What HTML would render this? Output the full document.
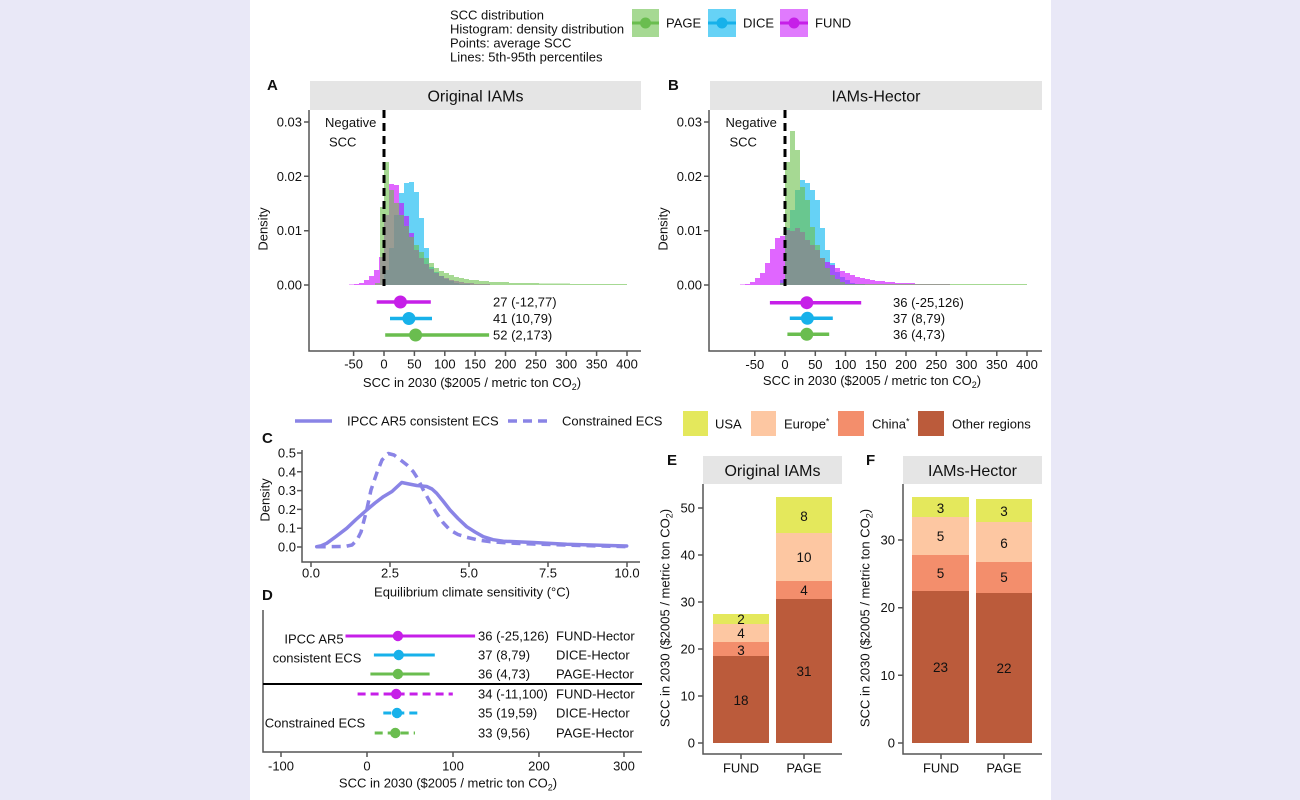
<!DOCTYPE html>
<html><head><meta charset="utf-8">
<style>
html,body{margin:0;padding:0;background:#e9e8f7;}
svg{display:block;}
text{font-family:"Liberation Sans",Arial,sans-serif;fill:#111;}
</style></head>
<body>
<svg width="1300" height="800" viewBox="0 0 1300 800" xmlns="http://www.w3.org/2000/svg">
<rect x="0" y="0" width="1300" height="800" fill="#e9e8f7"/>
<rect x="250" y="0" width="801" height="800" fill="#ffffff"/>

<!-- Top legend -->
<g font-size="13">
<text x="450" y="19.5">SCC distribution</text>
<text x="450" y="33.5">Histogram: density distribution</text>
<text x="450" y="47.5">Points: average SCC</text>
<text x="450" y="61.5">Lines: 5th-95th percentiles</text>
</g>
<rect x="632" y="9" width="27" height="28" fill="rgb(166,217,147)"/>
<line x1="632" y1="23" x2="659" y2="23" stroke="#6abd4f" stroke-width="3"/>
<circle cx="645.5" cy="23" r="5.5" fill="#6abd4f"/>
<text x="666" y="27.5" font-size="13">PAGE</text>
<rect x="708" y="9" width="28" height="28" fill="rgb(102,210,246)"/>
<line x1="708" y1="23" x2="736" y2="23" stroke="#17b1ea" stroke-width="3"/>
<circle cx="722" cy="23" r="5.5" fill="#17b1ea"/>
<text x="743" y="27.5" font-size="13">DICE</text>
<rect x="780" y="9" width="28" height="28" fill="rgb(224,122,253)"/>
<line x1="780" y1="23" x2="808" y2="23" stroke="#c61fe8" stroke-width="3"/>
<circle cx="794" cy="23" r="5.5" fill="#c61fe8"/>
<text x="815" y="27.5" font-size="13">FUND</text>

<!-- ============ Panel A ============ -->
<text x="267" y="90" font-size="15" font-weight="bold">A</text>
<rect x="310" y="81" width="331" height="29" fill="#e5e5e5"/>
<text x="475.5" y="101.5" font-size="16" text-anchor="middle">Original IAMs</text>
<!-- histograms -->
<path d="M384 285 V270 H389 V248 H394 V215 H399 V193 H404 V183 H409 V182 H414 V192 H419 V218 H424 V248 H429 V267 H434 V272 H439 V276 H444 V279 H449 V281 H454 V283 H459 V284 H470 V285 Z" fill="rgb(0,180,240)" fill-opacity="0.6"/>
<path d="M349 285 V284.5 H354 V284 H359 V283 H364 V280 H369 V276 H374 V270 H379 V257 H384 V215 H389 V184 H394 V185 H399 V203 H404 V216 H409 V233 H414 V250 H419 V258 H424 V264 H429 V269 H434 V273 H439 V276 H444 V278 H449 V280 H454 V281 H459 V282 H464 V283 H474 V284 H490 V285 Z" fill="rgb(204,0,255)" fill-opacity="0.6"/>
<path d="M375 285 V283 H380 V207 H384 V162 H389 V190 H394 V203 H399 V215 H404 V226 H409 V237 H414 V245 H419 V252 H424 V258 H429 V263 H434 V268 H439 V271 H444 V273 H449 V275 H454 V277 H459 V278 H464 V279 H469 V280 H479 V281 H489 V282 H509 V283 H539 V283.5 H570 V284 H627 V285 Z" fill="rgb(106,191,75)" fill-opacity="0.6"/>
<line x1="384" y1="110" x2="384" y2="286" stroke="#000" stroke-width="3" stroke-dasharray="8,5"/>
<text x="325" y="127" font-size="13">Negative</text>
<text x="329" y="146.5" font-size="13">SCC</text>
<!-- point ranges -->
<line x1="376.7" y1="302" x2="430.8" y2="302" stroke="#c61fe8" stroke-width="3.5"/>
<circle cx="400.4" cy="302" r="6.5" fill="#c61fe8"/>
<line x1="390" y1="318.5" x2="432" y2="318.5" stroke="#17b1ea" stroke-width="3.5"/>
<circle cx="408.9" cy="318.5" r="6.5" fill="#17b1ea"/>
<line x1="385.2" y1="335" x2="489.1" y2="335" stroke="#6abd4f" stroke-width="3.5"/>
<circle cx="415.6" cy="335" r="6.5" fill="#6abd4f"/>
<g font-size="13">
<text x="493" y="306.5">27 (-12,77)</text>
<text x="493" y="323">41 (10,79)</text>
<text x="493" y="339.5">52 (2,173)</text>
</g>
<!-- axes -->
<g stroke="#555" stroke-width="1.5" fill="none">
<path d="M309 110 V351 H641"/>
<path d="M304 122 H309 M304 176.3 H309 M304 230.7 H309 M304 285 H309"/>
<path d="M353.6 351 V356 M384 351 V356 M414.4 351 V356 M444.8 351 V356 M475.1 351 V356 M505.5 351 V356 M535.9 351 V356 M566.3 351 V356 M596.6 351 V356 M627 351 V356"/>
</g>
<g font-size="13" text-anchor="end">
<text x="302" y="126.5">0.03</text>
<text x="302" y="180.8">0.02</text>
<text x="302" y="235.2">0.01</text>
<text x="302" y="289.5">0.00</text>
</g>
<text transform="translate(267.5,229) rotate(-90)" font-size="13" text-anchor="middle">Density</text>
<g font-size="13" text-anchor="middle">
<text x="353.6" y="368.5">-50</text>
<text x="384" y="368.5">0</text>
<text x="414.4" y="368.5">50</text>
<text x="444.8" y="368.5">100</text>
<text x="475.1" y="368.5">150</text>
<text x="505.5" y="368.5">200</text>
<text x="535.9" y="368.5">250</text>
<text x="566.3" y="368.5">300</text>
<text x="596.6" y="368.5">350</text>
<text x="627" y="368.5">400</text>
<text x="472" y="387">SCC in 2030 ($2005 / metric ton CO<tspan font-size="9" dy="3">2</tspan><tspan dy="-3">)</tspan></text>
</g>

<!-- ============ Panel B ============ -->
<text x="668" y="90" font-size="15" font-weight="bold">B</text>
<rect x="710" y="81" width="332" height="29" fill="#e5e5e5"/>
<text x="876" y="101.5" font-size="16" text-anchor="middle">IAMs-Hector</text>
<path d="M780 285 V280 H785 V228 H790 V210 H795 V190 H800 V180 H805 V183 H810 V190 H815 V200 H820 V228 H825 V250 H830 V263 H835 V272 H840 V277 H845 V280 H850 V283 H855 V284 H865 V285 Z" fill="rgb(0,180,240)" fill-opacity="0.6"/>
<path d="M740 285 V284.5 H745 V284 H750 V282 H755 V278 H760 V273 H765 V263 H770 V249 H775 V238 H780 V236 H785 V230 H790 V231 H795 V228 H800 V232 H805 V240 H810 V245 H815 V250 H820 V258 H825 V262 H830 V265 H835 V268 H840 V271 H845 V273 H850 V275 H855 V277 H860 V278 H865 V279 H870 V280 H875 V281 H885 V282 H895 V283 H915 V284 H950 V285 Z" fill="rgb(204,0,255)" fill-opacity="0.6"/>
<path d="M780 285 V283 H785 V162 H790 V131 H795 V150 H800 V187 H805 V200 H810 V227 H815 V245 H820 V258 H825 V268 H830 V275 H835 V279 H840 V282 H845 V284 H1027 V285 Z" fill="rgb(106,191,75)" fill-opacity="0.6"/>
<line x1="785" y1="110" x2="785" y2="286" stroke="#000" stroke-width="3" stroke-dasharray="8,5"/>
<text x="725.5" y="127" font-size="13">Negative</text>
<text x="729.5" y="146.5" font-size="13">SCC</text>
<line x1="769.9" y1="302.7" x2="861.2" y2="302.7" stroke="#c61fe8" stroke-width="3.5"/>
<circle cx="806.8" cy="302.7" r="6.5" fill="#c61fe8"/>
<line x1="789.8" y1="318.3" x2="832.8" y2="318.3" stroke="#17b1ea" stroke-width="3.5"/>
<circle cx="807.4" cy="318.3" r="6.5" fill="#17b1ea"/>
<line x1="787.4" y1="334.3" x2="829.2" y2="334.3" stroke="#6abd4f" stroke-width="3.5"/>
<circle cx="806.8" cy="334.3" r="6.5" fill="#6abd4f"/>
<g font-size="13">
<text x="893" y="307">36 (-25,126)</text>
<text x="893" y="322.8">37 (8,79)</text>
<text x="893" y="338.8">36 (4,73)</text>
</g>
<g stroke="#555" stroke-width="1.5" fill="none">
<path d="M709 110 V351 H1042"/>
<path d="M704 122 H709 M704 176.3 H709 M704 230.7 H709 M704 285 H709"/>
<path d="M754.8 351 V356 M785 351 V356 M815.3 351 V356 M845.5 351 V356 M875.8 351 V356 M906 351 V356 M936.3 351 V356 M966.5 351 V356 M996.8 351 V356 M1027 351 V356"/>
</g>
<g font-size="13" text-anchor="end">
<text x="702" y="126.5">0.03</text>
<text x="702" y="180.8">0.02</text>
<text x="702" y="235.2">0.01</text>
<text x="702" y="289.5">0.00</text>
</g>
<text transform="translate(667.5,229) rotate(-90)" font-size="13" text-anchor="middle">Density</text>
<g font-size="13" text-anchor="middle">
<text x="754.8" y="369">-50</text>
<text x="785" y="369">0</text>
<text x="815.3" y="369">50</text>
<text x="845.5" y="369">100</text>
<text x="875.8" y="369">150</text>
<text x="906" y="369">200</text>
<text x="936.3" y="369">250</text>
<text x="966.5" y="369">300</text>
<text x="996.8" y="369">350</text>
<text x="1027" y="369">400</text>
<text x="872" y="385">SCC in 2030 ($2005 / metric ton CO<tspan font-size="9" dy="3">2</tspan><tspan dy="-3">)</tspan></text>
</g>

<!-- ============ Panel C ============ -->
<line x1="295" y1="421" x2="332" y2="421" stroke="#8a84e6" stroke-width="3.5"/>
<text x="347" y="425.5" font-size="13">IPCC AR5 consistent ECS</text>
<line x1="508" y1="421" x2="547" y2="421" stroke="#8a84e6" stroke-width="3.5" stroke-dasharray="9,6"/>
<text x="562" y="425.5" font-size="13">Constrained ECS</text>
<text x="262" y="443" font-size="15" font-weight="bold">C</text>
<g stroke="#555" stroke-width="1.5" fill="none">
<path d="M302 450 V562 H640"/>
<path d="M297 453 H302 M297 471.8 H302 M297 490.6 H302 M297 509.4 H302 M297 528.2 H302 M297 547 H302"/>
<path d="M311 562 V567 M390 562 V567 M469 562 V567 M548 562 V567 M627 562 V567"/>
</g>
<g font-size="13" text-anchor="end">
<text x="296" y="457.5">0.5</text>
<text x="296" y="476.3">0.4</text>
<text x="296" y="495.1">0.3</text>
<text x="296" y="513.9">0.2</text>
<text x="296" y="532.7">0.1</text>
<text x="296" y="551.5">0.0</text>
</g>
<text transform="translate(269.5,500) rotate(-90)" font-size="13" text-anchor="middle">Density</text>
<g font-size="13" text-anchor="middle">
<text x="311" y="577.5">0.0</text>
<text x="390" y="577.5">2.5</text>
<text x="469" y="577.5">5.0</text>
<text x="548" y="577.5">7.5</text>
<text x="627" y="577.5">10.0</text>
<text x="472" y="596.5">Equilibrium climate sensitivity (°C)</text>
</g>
<polyline fill="none" stroke="#8a84e6" stroke-width="3.5" stroke-linejoin="round" stroke-linecap="round"
 points="316.7,546.7 321,545.8 326.7,543.3 336,536.5 346.7,528.3 356,519.5 366.7,510 375,503 383.3,496.7 392,491.5 401.7,482.5 409,484 416.7,485.5 426.7,486.5 432,489 436.7,493.3 443,501 450,510 458,518.5 466.7,526.7 475,532 483.3,536.7 493,539.7 503.3,541.2 533.3,542.5 566.7,544.3 600,545.3 626.7,546"/>
<polyline fill="none" stroke="#8a84e6" stroke-width="3.5" stroke-linejoin="round" stroke-dasharray="9,6"
 points="316.7,546.7 330,546.7 345,546.5 352,545 357,540 361,532 366.7,510 371,490 376.7,473.3 382,460 388.3,453.5 394,455 400,459.5 407,465 413.3,471.7 418,479 423.3,490 430,502 436.7,513.3 443,522.5 450,530 458,534.5 466.7,537.3 478,540 490,541.7 510,543 533.3,544 580,545.5 626.7,546.7"/>

<!-- ============ Panel D ============ -->
<text x="262" y="600" font-size="15" font-weight="bold">D</text>
<g stroke="#555" stroke-width="1.5" fill="none">
<path d="M263 610 V752 H642"/>
<path d="M281 752 V757 M367 752 V757 M453 752 V757 M539 752 V757 M624 752 V757"/>
</g>
<line x1="263" y1="684" x2="642" y2="684" stroke="#000" stroke-width="2"/>
<line x1="345.5" y1="636" x2="475.1" y2="636" stroke="#c61fe8" stroke-width="3"/>
<circle cx="397.9" cy="636" r="5.2" fill="#c61fe8"/>
<line x1="373.9" y1="655" x2="434.8" y2="655" stroke="#17b1ea" stroke-width="3"/>
<circle cx="398.7" cy="655" r="5.2" fill="#17b1ea"/>
<line x1="370.4" y1="674" x2="429.6" y2="674" stroke="#6abd4f" stroke-width="3"/>
<circle cx="397.9" cy="674" r="5.2" fill="#6abd4f"/>
<line x1="357.6" y1="694" x2="452.8" y2="694" stroke="#c61fe8" stroke-width="3" stroke-dasharray="8,5"/>
<circle cx="396.2" cy="694" r="5.2" fill="#c61fe8"/>
<line x1="383.3" y1="713" x2="417.6" y2="713" stroke="#17b1ea" stroke-width="3" stroke-dasharray="8,5"/>
<circle cx="397" cy="713" r="5.2" fill="#17b1ea"/>
<line x1="374.7" y1="733" x2="415" y2="733" stroke="#6abd4f" stroke-width="3" stroke-dasharray="8,5"/>
<circle cx="395.3" cy="733" r="5.2" fill="#6abd4f"/>
<g font-size="13">
<text x="478" y="640.5">36 (-25,126)</text><text x="556" y="640.5">FUND-Hector</text>
<text x="478" y="659.5">37 (8,79)</text><text x="556" y="659.5">DICE-Hector</text>
<text x="478" y="678.5">36 (4,73)</text><text x="556" y="678.5">PAGE-Hector</text>
<text x="478" y="698.5">34 (-11,100)</text><text x="556" y="698.5">FUND-Hector</text>
<text x="478" y="717.5">35 (19,59)</text><text x="556" y="717.5">DICE-Hector</text>
<text x="478" y="737.5">33 (9,56)</text><text x="556" y="737.5">PAGE-Hector</text>
</g>
<g font-size="13" text-anchor="middle">
<text x="314" y="643.5">IPCC AR5</text>
<text x="317" y="662.5">consistent ECS</text>
<text x="315" y="727.5">Constrained ECS</text>
<text x="281" y="770.5">-100</text>
<text x="367" y="770.5">0</text>
<text x="453" y="770.5">100</text>
<text x="539" y="770.5">200</text>
<text x="624" y="770.5">300</text>
<text x="448" y="787.5">SCC in 2030 ($2005 / metric ton CO<tspan font-size="9" dy="3">2</tspan><tspan dy="-3">)</tspan></text>
</g>

<!-- ============ Legend E/F ============ -->
<rect x="683" y="411" width="25" height="25" fill="#e4e85c"/>
<text x="715" y="428.5" font-size="13">USA</text>
<rect x="751" y="411" width="25" height="25" fill="#fdc7a2"/>
<text x="784" y="428.5" font-size="13">Europe<tspan font-size="9" dy="-4">*</tspan></text>
<rect x="838" y="411" width="26" height="25" fill="#f38e6c"/>
<text x="872" y="428.5" font-size="13">China<tspan font-size="9" dy="-4">*</tspan></text>
<rect x="918" y="411" width="26" height="25" fill="#bb5b3b"/>
<text x="952" y="428.5" font-size="13">Other regions</text>

<!-- ============ Panel E ============ -->
<text x="667" y="465" font-size="15" font-weight="bold">E</text>
<rect x="703" y="456" width="139" height="28" fill="#e5e5e5"/>
<text x="772.5" y="476" font-size="16" text-anchor="middle">Original IAMs</text>
<!-- FUND bar -->
<rect x="713" y="656" width="56" height="87" fill="#bb5b3b"/>
<rect x="713" y="642" width="56" height="14" fill="#f38e6c"/>
<rect x="713" y="624" width="56" height="18" fill="#fdc7a2"/>
<rect x="713" y="614" width="56" height="10" fill="#e4e85c"/>
<!-- PAGE bar -->
<rect x="776" y="599" width="56" height="144" fill="#bb5b3b"/>
<rect x="776" y="581" width="56" height="18" fill="#f38e6c"/>
<rect x="776" y="533" width="56" height="48" fill="#fdc7a2"/>
<rect x="776" y="497" width="56" height="36" fill="#e4e85c"/>
<g font-size="13.5" text-anchor="middle">
<text x="741" y="705">18</text>
<text x="741" y="655">3</text>
<text x="741" y="638">4</text>
<text x="741" y="624">2</text>
<text x="804" y="676">31</text>
<text x="804" y="595">4</text>
<text x="804" y="562">10</text>
<text x="804" y="521">8</text>
</g>
<g stroke="#555" stroke-width="1.5" fill="none">
<path d="M703 484 V754 H842"/>
<path d="M698 508 H703 M698 555 H703 M698 602 H703 M698 649 H703 M698 696 H703 M698 743 H703"/>
<path d="M741 754 V759 M804 754 V759"/>
</g>
<g font-size="13" text-anchor="end">
<text x="695" y="512.5">50</text>
<text x="695" y="559.5">40</text>
<text x="695" y="606.5">30</text>
<text x="695" y="653.5">20</text>
<text x="695" y="700.5">10</text>
<text x="695" y="747.5">0</text>
</g>
<g font-size="13" text-anchor="middle">
<text x="741" y="772.5">FUND</text>
<text x="804" y="772.5">PAGE</text>
</g>
<text transform="translate(669.5,618) rotate(-90)" font-size="13" text-anchor="middle">SCC in 2030 ($2005 / metric ton CO<tspan font-size="9" dy="3">2</tspan><tspan dy="-3">)</tspan></text>

<!-- ============ Panel F ============ -->
<text x="866" y="465" font-size="15" font-weight="bold">F</text>
<rect x="903" y="456" width="139" height="28" fill="#e5e5e5"/>
<text x="972.5" y="476" font-size="16" text-anchor="middle">IAMs-Hector</text>
<rect x="912" y="591" width="57" height="152" fill="#bb5b3b"/>
<rect x="912" y="555" width="57" height="36" fill="#f38e6c"/>
<rect x="912" y="517" width="57" height="38" fill="#fdc7a2"/>
<rect x="912" y="497" width="57" height="20" fill="#e4e85c"/>
<rect x="976" y="593" width="56" height="150" fill="#bb5b3b"/>
<rect x="976" y="562" width="56" height="31" fill="#f38e6c"/>
<rect x="976" y="522" width="56" height="40" fill="#fdc7a2"/>
<rect x="976" y="499" width="56" height="23" fill="#e4e85c"/>
<g font-size="13.5" text-anchor="middle">
<text x="940.5" y="672">23</text>
<text x="940.5" y="578">5</text>
<text x="940.5" y="541">5</text>
<text x="940.5" y="513">3</text>
<text x="1004" y="673">22</text>
<text x="1004" y="582">5</text>
<text x="1004" y="548">6</text>
<text x="1004" y="516">3</text>
</g>
<g stroke="#555" stroke-width="1.5" fill="none">
<path d="M903 484 V754 H1042"/>
<path d="M898 540 H903 M898 607.7 H903 M898 675.3 H903 M898 743 H903"/>
<path d="M941 754 V759 M1004 754 V759"/>
</g>
<g font-size="13" text-anchor="end">
<text x="895" y="544.5">30</text>
<text x="895" y="612.2">20</text>
<text x="895" y="679.8">10</text>
<text x="895" y="747.5">0</text>
</g>
<g font-size="13" text-anchor="middle">
<text x="941" y="772.5">FUND</text>
<text x="1004" y="772.5">PAGE</text>
</g>
<text transform="translate(869.5,618) rotate(-90)" font-size="13" text-anchor="middle">SCC in 2030 ($2005 / metric ton CO<tspan font-size="9" dy="3">2</tspan><tspan dy="-3">)</tspan></text>
</svg>
</body></html>
